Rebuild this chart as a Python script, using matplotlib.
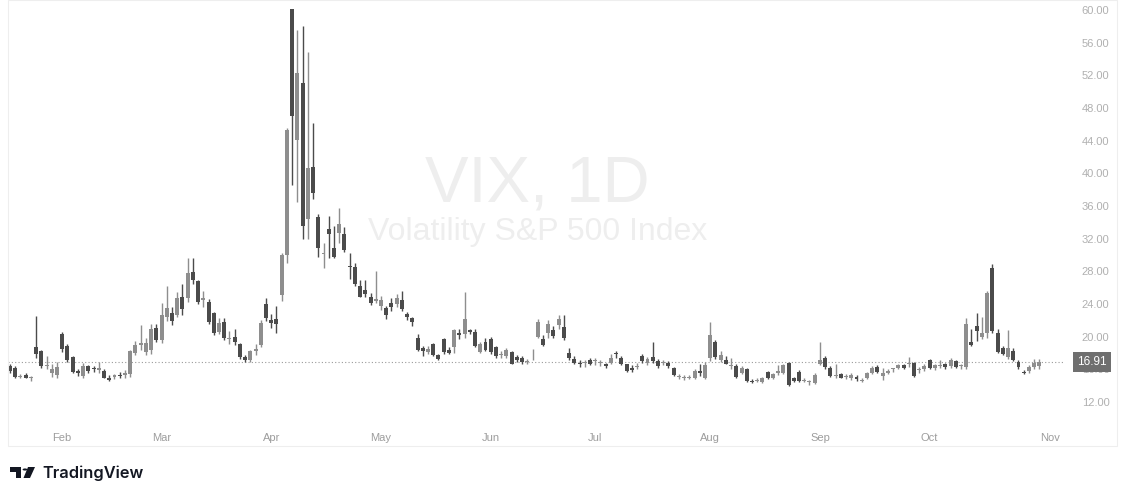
import numpy as np
import pandas as pd
import matplotlib
matplotlib.use('Agg')
import matplotlib.pyplot as plt
import matplotlib.transforms as mtransforms
from matplotlib.patches import Rectangle, Polygon, Circle

# trading days, 17 Jan 2025 .. 3 Nov 2025 (US market holidays removed)
holidays = ['2025-01-20', '2025-02-17', '2025-04-18', '2025-05-26',
            '2025-06-19', '2025-07-04', '2025-09-01']
dates = pd.bdate_range('2025-01-17', '2025-11-03', freq='C', holidays=holidays)

# daily candles (Jan .. Oct, one line per month)
opens = [
    16.4, 16.2, 15.1, 15.3, 14.9, 18.7, 18.2, 16.4, 15.6, 15.3,
    20.3, 18.9, 17.5, 15.8, 15.2, 16.4, 16.1, 15.9, 15.8, 15.0, 15.1, 15.3, 15.3, 15.4, 18.0, 19.0, 18.1, 18.4, 21.1,
    19.6, 22.4, 22.9, 22.7, 24.8, 24.7, 27.9, 26.8, 24.5, 24.3, 22.9, 20.6, 21.8, 19.7, 20.0, 19.1, 17.5, 17.1, 18.3, 19.0, 24.0,
    22.0, 22.2, 25.1, 30.0, 60.1, 44.1, 51.1, 34.4, 40.8, 34.7, 30.1, 33.2, 30.9, 32.7, 32.6, 28.6, 28.5, 26.2, 25.7, 24.9, 24.4,
    23.8, 23.5, 24.1, 24.0, 24.5, 22.8, 22.3, 19.8, 18.6, 18.1, 19.1, 17.8, 19.7, 18.4, 18.7, 20.5, 20.3, 20.8, 20.6, 18.1, 19.4,
    19.7, 18.7, 17.8, 17.6, 18.1, 17.5, 17.4, 16.9, 17.7, 20.0, 19.7, 20.4, 20.8, 21.4, 21.2, 18.0, 17.3, 16.7, 16.8, 17.1,
    17.0, 16.8, 16.6, 16.8, 17.9, 17.4, 16.6, 16.2, 16.3, 17.6, 16.8, 17.5, 17.0, 16.8, 16.8, 16.2, 15.1, 15.0, 15.0, 14.9, 15.8, 14.9,
    17.4, 19.4, 17.1, 17.1, 16.4, 16.4, 15.6, 16.0, 14.6, 14.6, 14.4, 15.7, 15.0, 15.6, 15.6, 16.8, 14.9, 15.7, 14.6, 14.4, 14.3,
    16.7, 17.4, 16.2, 15.2, 15.4, 15.1, 14.9, 15.1, 14.6, 15.0, 15.6, 16.3, 15.2, 15.6, 16.0, 16.2, 16.5, 16.7, 16.8, 15.9, 16.0,
    17.1, 16.2, 16.4, 16.6, 16.4, 17.0, 16.4, 16.3, 19.4, 21.3, 20.0, 20.4, 28.4, 20.4, 18.6, 17.5, 18.3, 16.9, 15.7, 15.8, 16.3, 16.4,
]
highs = [
    16.6, 16.4, 15.4, 15.5, 15.2, 22.5, 18.4, 17.6, 16.6, 16.9,
    20.6, 19.1, 17.6, 16.1, 16.8, 16.5, 16.4, 16.9, 16.0, 15.3, 15.4, 15.7, 15.9, 18.4, 19.5, 21.4, 19.8, 21.5, 21.6,
    24.1, 26.2, 23.6, 25.5, 26.5, 29.6, 29.6, 27.0, 25.6, 24.6, 23.0, 22.3, 22.3, 20.7, 21.0, 19.2, 17.7, 18.4, 19.1, 22.0, 24.7,
    22.8, 23.8, 30.2, 45.5, 60.1, 57.5, 58.0, 54.9, 46.2, 35.0, 31.5, 34.8, 33.5, 35.7, 33.4, 30.2, 29.0, 27.0, 26.9, 25.3, 28.0,
    25.0, 23.8, 24.7, 25.2, 25.6, 23.0, 22.4, 20.3, 18.9, 18.9, 19.2, 17.9, 19.9, 18.7, 21.0, 21.0, 25.5, 21.0, 20.9, 19.4, 19.9,
    20.0, 18.9, 18.2, 18.6, 18.3, 17.7, 17.6, 17.3, 18.5, 22.2, 20.2, 22.0, 21.3, 22.7, 22.6, 18.6, 17.6, 17.1, 17.2, 17.4,
    17.4, 17.1, 16.8, 17.9, 18.3, 17.6, 16.7, 16.5, 16.8, 17.9, 17.5, 19.4, 17.3, 17.2, 17.0, 16.3, 15.4, 15.3, 15.3, 16.1, 16.6, 16.9,
    21.8, 19.6, 18.2, 17.6, 17.4, 16.6, 16.4, 16.2, 14.8, 15.0, 15.1, 15.8, 15.6, 16.5, 16.6, 16.9, 15.1, 15.9, 14.9, 14.7, 15.5,
    19.4, 17.6, 16.4, 16.6, 15.6, 15.4, 15.5, 15.3, 14.9, 15.7, 16.4, 16.5, 16.2, 16.0, 16.2, 16.7, 16.7, 17.5, 16.9, 16.3, 16.6,
    17.3, 16.7, 17.1, 16.8, 17.4, 17.2, 16.7, 22.3, 20.9, 22.9, 22.4, 25.6, 28.9, 21.0, 18.9, 20.8, 18.6, 17.1, 15.9, 16.5, 17.3, 17.3,
]
lows = [
    15.6, 14.9, 14.9, 14.9, 14.6, 17.4, 16.2, 16.0, 15.1, 15.0,
    18.1, 16.9, 15.6, 15.2, 14.9, 15.6, 15.7, 15.5, 14.9, 14.6, 14.8, 15.0, 15.0, 15.1, 17.7, 18.4, 17.8, 17.9, 19.3,
    19.2, 21.9, 21.4, 22.4, 22.7, 24.3, 26.4, 24.0, 23.6, 21.5, 20.2, 20.3, 19.6, 19.1, 19.0, 17.3, 16.9, 16.9, 17.8, 18.8, 21.9,
    21.1, 20.4, 24.4, 29.0, 38.6, 36.5, 31.9, 32.0, 36.9, 29.7, 28.4, 29.6, 29.6, 31.5, 30.4, 27.1, 26.2, 24.8, 24.9, 23.9, 24.1,
    23.3, 22.2, 23.2, 23.6, 23.2, 22.0, 21.3, 18.2, 17.6, 17.9, 17.6, 17.1, 17.9, 17.9, 18.0, 19.7, 19.8, 20.3, 18.7, 18.0, 18.3,
    17.9, 17.4, 17.4, 17.4, 16.6, 16.9, 16.7, 16.6, 17.2, 19.8, 18.9, 19.9, 19.9, 21.0, 19.6, 17.2, 16.6, 16.3, 16.3, 16.5,
    16.5, 16.4, 16.2, 16.6, 17.4, 16.5, 15.7, 15.7, 16.0, 16.8, 16.5, 16.8, 16.2, 16.5, 16.2, 15.2, 14.8, 14.7, 14.8, 14.8, 15.2, 14.8,
    17.0, 17.3, 16.9, 16.6, 16.0, 15.0, 15.4, 14.5, 14.3, 14.4, 14.3, 14.8, 14.8, 15.3, 15.4, 14.0, 14.4, 14.5, 14.4, 14.1, 14.2,
    16.5, 16.1, 15.1, 14.9, 14.9, 14.8, 14.7, 14.6, 14.4, 14.8, 15.4, 15.5, 14.7, 15.4, 15.7, 16.0, 16.0, 16.3, 15.1, 15.6, 15.8,
    16.0, 15.9, 16.2, 16.1, 16.2, 16.2, 16.1, 16.1, 18.9, 19.5, 19.7, 19.8, 20.4, 18.0, 17.7, 17.3, 17.0, 16.1, 15.4, 15.5, 16.0, 16.1,
]
closes = [
    15.8, 15.1, 15.1, 15.0, 14.9, 17.9, 16.4, 16.5, 16.1, 16.3,
    18.5, 17.1, 15.7, 15.5, 16.4, 15.8, 16.0, 16.2, 15.0, 14.7, 15.3, 15.2, 15.6, 18.2, 19.0, 19.2, 19.2, 21.0, 19.6,
    22.7, 23.5, 21.9, 24.7, 23.4, 27.8, 26.9, 24.2, 24.7, 21.8, 20.5, 21.7, 19.9, 19.8, 19.3, 17.5, 17.1, 18.2, 18.5, 21.7, 22.3,
    21.7, 21.5, 30.0, 45.3, 47.0, 52.3, 33.6, 40.7, 37.6, 30.9, 30.2, 32.6, 29.7, 33.8, 30.6, 28.5, 26.5, 24.9, 25.2, 24.1, 24.6,
    24.5, 22.7, 23.6, 24.7, 23.4, 22.4, 21.8, 18.4, 18.2, 18.5, 17.8, 17.3, 18.1, 18.0, 20.8, 20.2, 22.2, 20.6, 18.9, 19.1, 18.4,
    18.1, 17.6, 17.9, 18.4, 16.7, 17.1, 16.9, 16.95, 17.8, 21.8, 19.0, 21.6, 20.1, 22.2, 19.8, 17.4, 16.8, 16.6, 16.9, 16.7,
    17.0, 16.8, 16.4, 17.4, 17.85, 16.7, 15.8, 15.9, 16.35, 17.0, 17.3, 17.0, 16.4, 16.8, 16.4, 15.3, 15.1, 15.0, 15.05, 15.8, 15.5, 16.5,
    20.2, 17.5, 17.7, 16.7, 16.45, 15.1, 16.2, 14.6, 14.4, 14.7, 14.9, 14.9, 15.4, 15.8, 16.5, 14.1, 14.6, 14.6, 14.65, 14.45, 15.3,
    17.1, 16.3, 15.2, 15.25, 15.0, 15.1, 15.3, 14.8, 14.7, 15.6, 16.2, 15.7, 15.6, 15.8, 16.05, 16.5, 16.2, 16.75, 15.2, 15.95, 16.4,
    16.2, 16.5, 16.5, 16.3, 17.1, 16.3, 16.45, 21.6, 19.0, 20.7, 20.4, 25.3, 20.7, 18.1, 17.9, 18.6, 17.1, 16.3, 15.6, 16.3, 16.8, 16.91,
]
last_price = 16.91
y_ticks = [12, 16, 20, 24, 28, 32, 36, 40, 44, 48, 52, 56, 60]

W, H = 1125, 498
fig = plt.figure(figsize=(W / 100, H / 100), dpi=100)
fig.patch.set_facecolor('white')

def fx(px):
    return px / W

def fy(py):
    return 1 - py / H

ax = fig.add_axes([fx(8), fy(425), fx(1065) - fx(8), fy(0) - fy(425)])
ax.set_facecolor('none')

o = np.array(opens)
h = np.array(highs)
l = np.array(lows)
c = np.array(closes)
x = np.arange(len(c))
up = c >= o
col = np.where(up, '#8e8e8e', '#4b4b4b')

ax.vlines(x, l, h, colors=col, linewidth=1.0, zorder=2)
body_lo = np.minimum(o, c)
body_h = np.maximum(np.abs(c - o), 0.12)
ax.bar(x, body_h, bottom=body_lo, width=0.76, color=col, linewidth=0, zorder=3)

ax.axhline(last_price, color='#9a9a9a', linestyle=(0, (1, 2)), linewidth=0.8, zorder=1)

# watermark
ax.text(0.501, 0.525, 'VIX, 1D', transform=ax.transAxes, ha='center', va='baseline',
        fontsize=47, color='#eeeeee', family='Liberation Sans', zorder=0)
ax.text(0.501, 0.436, 'Volatility S&P 500 Index', transform=ax.transAxes, ha='center',
        va='baseline', fontsize=23, color='#eeeeee', family='Liberation Sans', zorder=0)

ax.set_xlim(-0.38, 201.9)
ax.set_ylim(9.19, 61.22)

# month ticks at first trading day of each month
month_idx = [i for i in range(1, len(dates)) if dates[i].month != dates[i - 1].month]
ax.set_xticks(month_idx)
ax.set_xticklabels([dates[i].strftime('%b') for i in month_idx])
ax.set_yticks(y_ticks)
ax.set_yticklabels(['%.2f' % v for v in y_ticks])
ax.yaxis.tick_right()
ax.tick_params(axis='x', length=0, pad=6, labelsize=8, labelcolor='#9d9d9d')
ax.tick_params(axis='y', length=0, pad=12, labelsize=8, labelcolor='#b0b0b0')
for lab in ax.get_xticklabels() + ax.get_yticklabels():
    lab.set_family('Liberation Sans')
for s in ax.spines.values():
    s.set_visible(False)

# last price tag
trans = mtransforms.blended_transform_factory(ax.transAxes, ax.transData)
ax.text(1.0256, last_price, '%.2f' % last_price, transform=trans, ha='center', va='center',
        fontsize=8.5, color='white', family='Liberation Sans', zorder=5,
        bbox=dict(boxstyle='square,pad=0.32', fc='#6f6f6f', ec='none'))

# light frame around the chart
fig.add_artist(Rectangle((fx(8), fy(446)), fx(1117) - fx(8), fy(0) - fy(446),
                         transform=fig.transFigure, fill=False, ec='#eeeeee', lw=0.8))

# TradingView logo
logo = '#131722'
fig.add_artist(Rectangle((fx(10), fy(472)), fx(11), fy(467) - fy(472),
                         transform=fig.transFigure, fc=logo, ec='none'))
fig.add_artist(Rectangle((fx(16), fy(478)), fx(5), fy(467) - fy(478),
                         transform=fig.transFigure, fc=logo, ec='none'))
fig.add_artist(Circle((fx(25), fy(469.5)), fx(2.4), transform=fig.transFigure, fc=logo, ec='none'))
fig.add_artist(Polygon([(fx(28), fy(467)), (fx(35), fy(467)), (fx(30), fy(478)), (fx(23.5), fy(478))],
                       closed=True, transform=fig.transFigure, fc=logo, ec='none'))
fig.text(fx(42), fy(478), 'TradingView', ha='left', va='baseline', fontsize=11.8,
         color=logo, family='Inter', fontweight='semibold')

fig.savefig('out.png', dpi=100, facecolor='white')
